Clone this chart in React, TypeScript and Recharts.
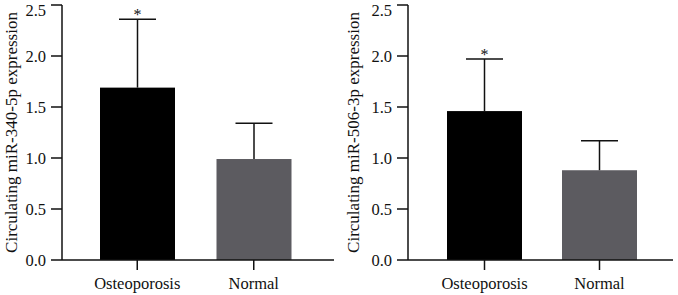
import { Bar, BarChart, Cell, XAxis, YAxis } from 'recharts';

const categories = ['Osteoporosis', 'Normal'];
const mir340Means = [1.69, 0.99];
const mir340Errors = [0.67, 0.35];
const mir506Means = [1.46, 0.88];
const mir506Errors = [0.51, 0.29];
const significance = ['*', ''];
const yTicks = [0, 0.5, 1, 1.5, 2, 2.5];
const barColors = ['#000000', '#5c5b60'];

const FONT = '"Liberation Serif", "Times New Roman", serif';
const INK = '#111111';

const buildRows = (means: number[], errors: number[]) =>
  categories.map((name, i) => ({ name, value: means[i], err: errors[i], mark: significance[i] }));

// bar + upper whisker + significance mark, whisker length scaled from the bar's own px/unit
function BarWithError(props: any) {
  const { x, y, width, height, fill, payload } = props;
  const perUnit = payload.value ? height / payload.value : 0;
  const top = y - payload.err * perUnit;
  const cx = x + width / 2;
  const cap = 37;
  return (
    <g>
      <rect x={x} y={y} width={width} height={height} fill={fill} />
      <line x1={cx} y1={y} x2={cx} y2={top} stroke={INK} strokeWidth={1.5} />
      <line x1={cx - cap / 2} y1={top} x2={cx + cap / 2} y2={top} stroke={INK} strokeWidth={1.5} />
      {payload.mark && (
        <text x={cx} y={top + 1} textAnchor="middle" fontFamily={FONT} fontSize={16} fill={INK}>
          {payload.mark}
        </text>
      )}
    </g>
  );
}

interface PanelProps {
  width: number;
  axisWidth: number;
  rightMargin: number;
  padding: { left: number; right: number };
  labelX: number;
  label: string;
  means: number[];
  errors: number[];
}

function Panel({ width, axisWidth, rightMargin, padding, labelX, label, means, errors }: PanelProps) {
  const data = buildRows(means, errors);
  const tick = { fontFamily: FONT, fontSize: 16.5, fill: INK };
  return (
    <BarChart width={width} height={295} data={data} margin={{ top: 5, right: rightMargin, left: 0, bottom: 0 }}>
      <XAxis
        dataKey="name"
        height={35}
        padding={padding}
        tick={tick}
        tickSize={10}
        tickMargin={7}
        axisLine={{ stroke: INK, strokeWidth: 1.5 }}
        tickLine={{ stroke: INK, strokeWidth: 1.5 }}
      />
      <YAxis
        width={axisWidth}
        domain={[0, 2.5]}
        ticks={yTicks}
        tickFormatter={(v: number) => v.toFixed(1)}
        tick={tick}
        tickSize={11}
        tickMargin={5}
        axisLine={{ stroke: INK, strokeWidth: 1.5 }}
        tickLine={{ stroke: INK, strokeWidth: 1.5 }}
        label={{
          value: label,
          angle: -90,
          position: 'insideLeft',
          offset: labelX,
          style: { textAnchor: 'middle', fontFamily: FONT, fontSize: 17, fill: INK },
        }}
      />
      <Bar dataKey="value" barSize={75} shape={BarWithError} isAnimationActive={false}>
        {data.map((row, i) => (
          <Cell key={row.name} fill={barColors[i]} />
        ))}
      </Bar>
    </BarChart>
  );
}

export default function App() {
  return (
    <div style={{ position: 'absolute', left: 0, top: 0, width: 678, height: 295, display: 'flex', background: '#fff' }}>
      <Panel
        width={340}
        axisWidth={62}
        rightMargin={6}
        padding={{ left: 17, right: 22 }}
        labelX={11}
        label="Circulating miR-340-5p expression"
        means={mir340Means}
        errors={mir340Errors}
      />
      <Panel
        width={338}
        axisWidth={68}
        rightMargin={5}
        padding={{ left: 19, right: 16 }}
        labelX={13}
        label="Circulating miR-506-3p expression"
        means={mir506Means}
        errors={mir506Errors}
      />
    </div>
  );
}
